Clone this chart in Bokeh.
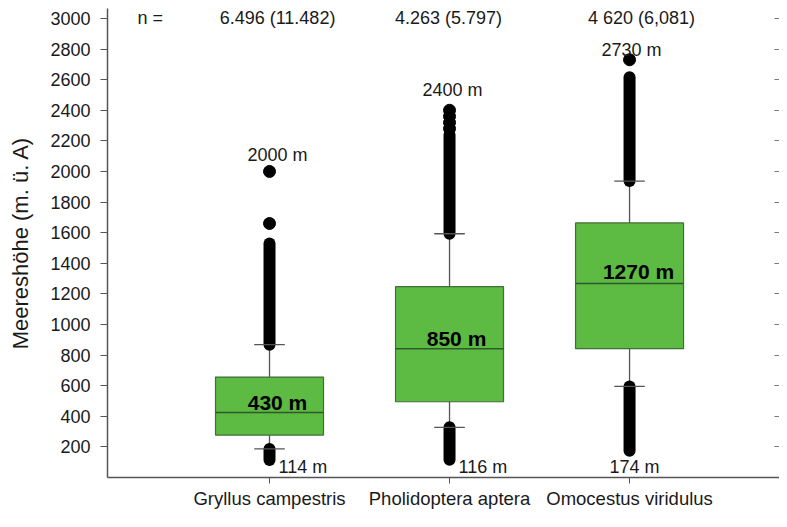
from bokeh.plotting import figure
from bokeh.models import Range1d, FixedTicker, LinearAxis, Label, CustomJSTickFormatter
from bokeh.embed import file_html
from bokeh.resources import INLINE
from bokeh.core.properties import value

# ---------------- data ----------------
species = ["Gryllus campestris", "Pholidoptera aptera", "Omocestus viridulus"]
xpos = [1, 2, 3]
n_labels = ["6.496 (11.482)", "4.263 (5.797)", "4 620 (6,081)"]

q1 = [277, 495, 842]
median = [425, 842, 1268]
q3 = [656, 1247, 1664]
whisker_low = [187, 328, 595]
whisker_high = [868, 1593, 1937]

min_vals = [114, 116, 174]
max_vals = [2000, 2400, 2730]
upper_run_top = [1530, 2240, 2615]      # end of the dense upper outlier band

median_labels = ["430 m", "850 m", "1270 m"]
max_labels = ["2000 m", "2400 m", "2730 m"]
min_labels = ["114 m", "116 m", "174 m"]

# isolated outliers above the dense bands
iso_species = [1, 1, 2, 2, 2, 2, 3]
iso_values = [1660, 2000, 2280, 2320, 2360, 2400, 2730]

y_ticks = [200, 400, 600, 800, 1000, 1200, 1400, 1600, 1800, 2000,
           2200, 2400, 2600, 2800, 3000]

# ---------------- style ----------------
FONT = value("Liberation Sans")
BOX_W = 0.6
CAP_W = 0.17
GREEN = "#5dba42"
BOX_LINE = "#3f6e36"
MED_LINE = "#2c5a2c"
WHISK = "#555555"
TXT = "#1a1a1a"

p = figure(width=779, height=511, output_backend="svg", toolbar_location=None,
           x_range=Range1d(0.1, 3.833), y_range=Range1d(0, 3065),
           min_border_left=107, min_border_top=8, min_border_right=0,
           min_border_bottom=0)
p.outline_line_color = None
p.grid.visible = False
p.background_fill_color = "white"
p.border_fill_color = "white"

# x axis
xa = p.xaxis[0]
xa.ticker = FixedTicker(ticks=xpos)
xa.major_label_overrides = {x: s for x, s in zip(xpos, species)}
xa.minor_tick_line_color = None
xa.major_tick_in = 0
xa.major_tick_out = 6
xa.major_label_standoff = 4
xa.axis_line_color = WHISK
xa.axis_line_width = 1.5
xa.major_tick_line_color = WHISK
xa.major_label_text_font = "Liberation Sans"
xa.major_label_text_font_size = "18.5px"
xa.major_label_text_color = TXT

# y axis
ya = p.yaxis[0]
ya.ticker = FixedTicker(ticks=y_ticks)
ya.minor_tick_line_color = None
ya.major_tick_in = 0
ya.major_tick_out = 7
ya.major_label_standoff = 10
ya.axis_line_color = WHISK
ya.axis_line_width = 1.5
ya.major_tick_line_color = WHISK
ya.major_label_text_font = "Liberation Sans"
ya.major_label_text_font_size = "18px"
ya.major_label_text_color = TXT
ya.axis_label = "Meereshöhe (m. ü. A)"
ya.axis_label_text_font = "Liberation Sans"
ya.axis_label_text_font_size = "22px"
ya.axis_label_text_font_style = "normal"
ya.axis_label_text_color = TXT
ya.axis_label_standoff = 14

# right axis with inward ticks only
ra = LinearAxis(ticker=FixedTicker(ticks=y_ticks), major_tick_in=5, major_tick_out=0,
                axis_line_color=None, minor_tick_line_color=None,
                major_tick_line_color="#777777", major_label_standoff=0,
                formatter=CustomJSTickFormatter(code="return ''"))
p.add_layout(ra, "right")

# whiskers
p.segment(x0=xpos, y0=q3, x1=xpos, y1=whisker_high, line_color=WHISK, line_width=1.3)
p.segment(x0=xpos, y0=q1, x1=xpos, y1=whisker_low, line_color=WHISK, line_width=1.3)

# dense outlier bands
p.segment(x0=xpos, y0=whisker_high, x1=xpos, y1=upper_run_top, line_color="black",
          line_width=12, line_cap="round")
p.segment(x0=xpos, y0=min_vals, x1=xpos, y1=whisker_low, line_color="black",
          line_width=12, line_cap="round")

# caps
cx0 = [x - CAP_W / 2 for x in xpos]
cx1 = [x + CAP_W / 2 for x in xpos]
p.segment(x0=cx0, y0=whisker_high, x1=cx1, y1=whisker_high, line_color=WHISK, line_width=1.3)
p.segment(x0=cx0, y0=whisker_low, x1=cx1, y1=whisker_low, line_color=WHISK, line_width=1.3)

# boxes
p.vbar(x=xpos, width=BOX_W, bottom=q1, top=q3, fill_color=GREEN,
       line_color=BOX_LINE, line_width=1.2)
mx0 = [x - BOX_W / 2 for x in xpos]
mx1 = [x + BOX_W / 2 for x in xpos]
p.segment(x0=mx0, y0=median, x1=mx1, y1=median, line_color=MED_LINE, line_width=1.5)

# isolated outliers
p.scatter(x=iso_species, y=iso_values, size=12, color="black")

# median labels
p.text(x=xpos, y=median, text=median_labels, text_font=FONT,
       text_font_size=value("21px"), text_font_style="bold", text_color="black",
       text_align="center", text_baseline="middle",
       x_offset=[8, 7, 9], y_offset=[-10, -10, -12])

# max labels
p.text(x=xpos, y=max_vals, text=max_labels, text_font=FONT,
       text_font_size=value("18px"), text_color=TXT,
       text_align="center", text_baseline="middle",
       x_offset=[8, 3, 2], y_offset=[-16, -20, -10])

# min labels
p.text(x=xpos, y=min_vals, text=min_labels, text_font=FONT,
       text_font_size=value("18px"), text_color=TXT,
       text_align=["left", "left", "center"], text_baseline="middle",
       x_offset=[9, 9, 5], y_offset=[7, 7, 16])

# n labels
p.text(x=xpos, y=[3000, 3000, 3000], text=n_labels, text_font=FONT,
       text_font_size=value("18px"), text_color=TXT,
       text_align="center", text_baseline="middle",
       x_offset=[8, -1, 12], y_offset=[0, 0, 0])
p.add_layout(Label(x=1, y=3000, x_offset=-132, y_offset=0, text="n =",
                   text_font="Liberation Sans", text_font_size="18px",
                   text_color=TXT, text_baseline="middle", text_align="left"))

open("out.html", "w").write(file_html(p, INLINE))
